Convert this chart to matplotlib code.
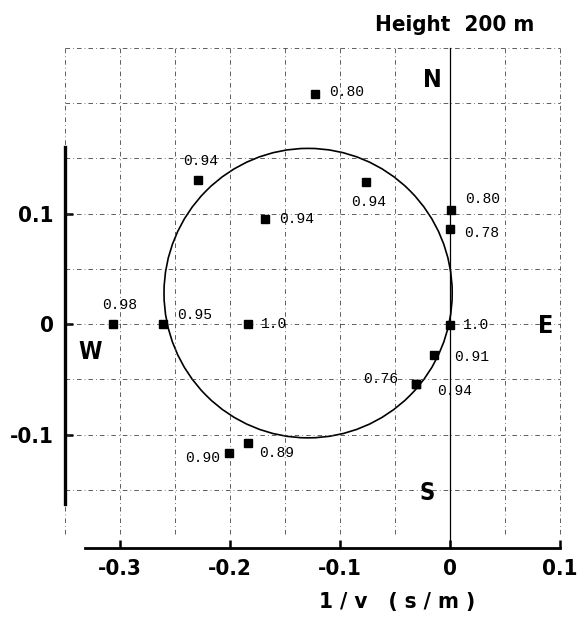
import numpy as np
import matplotlib.pyplot as plt
from matplotlib.patches import Circle

# slowness components (s/m) and coherence of each estimate
sx = [-0.306, -0.261, -0.184, -0.229, -0.168, -0.123, -0.076, 0.001, 0.0, 0.0, -0.015, -0.031, -0.031, -0.201, -0.184]
sy = [0.0, 0.0, 0.0, 0.130, 0.095, 0.208, 0.129, 0.103, 0.086, -0.001, -0.028, -0.054, -0.054, -0.117, -0.108]
coh = ['0.98', '0.95', '1.0', '0.94', '0.94', '0.80', '0.94', '0.80', '0.78', '1.0', '0.91', '0.76', '0.94', '0.90', '0.89']

# fitted circle
cx, cy, r = -0.129, 0.028, 0.131

xticks = [-0.3, -0.2, -0.1, 0, 0.1]
xticklabels = ['-0.3', '-0.2', '-0.1', '0', '0.1']
yticks = [-0.1, 0, 0.1]
yticklabels = ['-0.1', '0', '0.1']

# label offsets in pixels and alignment
offs = [(-11, 19, 'left'), (14, 9, 'left'), (13, 0, 'left'), (-15, 19, 'left'),
        (14, 0, 'left'), (14, 2, 'left'), (-15, -20, 'left'), (14, 11, 'left'),
        (14, -4, 'left'), (13, 0, 'left'), (21, -2, 'left'), (-18, 5, 'right'),
        (21, -7, 'left'), (-9, -5, 'right'), (12, -10, 'left')]

plt.rcParams['font.family'] = 'DejaVu Sans'
plt.rcParams['font.stretch'] = 'condensed'
plt.rcParams['font.weight'] = 'bold'
mono = ['Liberation Mono', 'DejaVu Sans Mono']

fig = plt.figure(figsize=(5.77, 6.21), dpi=100)
ax = fig.add_axes([0.0936, 0.0957, 0.896, 0.845])
ax.set_xlim(-0.36, 0.11)
ax.set_ylim(-0.215, 0.26)

gs = (0, (6, 4, 1, 4))
for x in np.arange(-0.35, 0.101, 0.05):
    if abs(x) < 1e-9:
        continue
    ax.plot([x, x], [-0.19, 0.25], color='#333333', lw=0.55, ls=gs)
for y in np.arange(-0.15, 0.251, 0.05):
    ax.plot([-0.35, 0.1], [y, y], color='#333333', lw=0.55, ls=gs)
ax.plot([0, 0], [-0.203, 0.25], color='black', lw=0.9)

ax.add_patch(Circle((cx, cy), r, fill=False, color='black', lw=1.2))

ax.plot(sx, sy, 's', color='black', ms=5.5)
for x, y, t, (dx, dy, ha) in zip(sx, sy, coh, offs):
    ax.annotate(t, (x, y), xytext=(dx, dy), textcoords='offset pixels',
                ha=ha, va='center', fontsize=10.5, family=mono, weight='normal')

ax.text(-0.016, 0.221, 'N', fontsize=18, ha='center', va='center')
ax.text(0.087, -0.002, 'E', fontsize=18, ha='center', va='center')
ax.text(-0.327, -0.025, 'W', fontsize=17, ha='center', va='center')
ax.text(-0.021, -0.153, 'S', fontsize=17, ha='center', va='center')

for s in ['top', 'right']:
    ax.spines[s].set_visible(False)
ax.spines['left'].set_position(('data', -0.35))
ax.spines['left'].set_bounds(-0.163, 0.16)
ax.spines['left'].set_linewidth(2.4)
ax.spines['bottom'].set_position(('data', -0.203))
ax.spines['bottom'].set_bounds(-0.332, 0.1)
ax.spines['bottom'].set_linewidth(2.0)

ax.set_xticks(xticks)
ax.set_xticklabels(xticklabels, fontsize=16)
ax.set_yticks(yticks)
ax.set_yticklabels(yticklabels, fontsize=16)
ax.tick_params(direction='in', length=6, width=1.8, pad=8)

fig.text(375 / 577, 1 - 25 / 621, 'Height  200 m', fontsize=16, ha='left', va='center')
fig.text(397 / 577, 1 - 602 / 621, '1 / v   ( s / m )', fontsize=16, ha='center', va='center')

fig.savefig('out.png', dpi=100)
